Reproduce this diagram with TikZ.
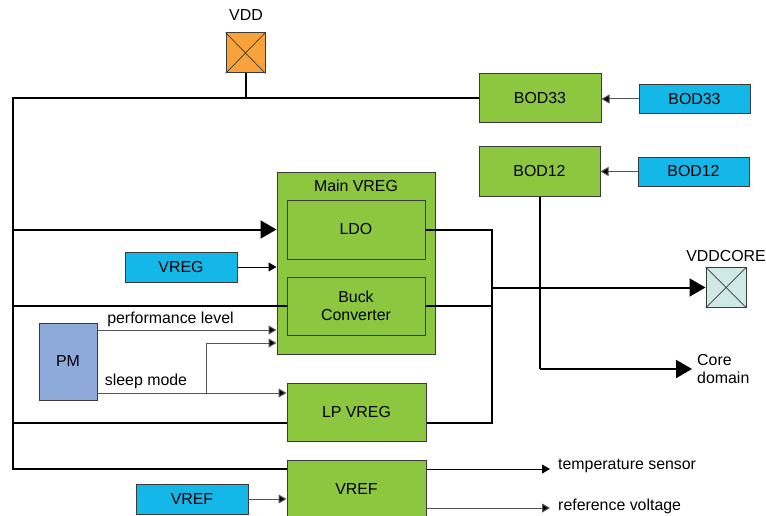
\documentclass[tikz,border=0pt]{standalone}
\usepackage{fontspec}
\setmainfont{Liberation Sans}
\usetikzlibrary{arrows.meta}
\definecolor{vgreen}{HTML}{8DC63F}
\definecolor{vblue}{HTML}{13B7E8}
\definecolor{vorange}{HTML}{F7A23A}
\definecolor{vteal}{HTML}{CFE9E6}
\definecolor{vpm}{HTML}{8EAADB}
\definecolor{vborder}{HTML}{3A3A3A}
\definecolor{vgrey}{HTML}{555555}
\tikzset{
  txt/.style={font=\fontsize{15.9}{18.5}\selectfont, inner sep=0pt},
  greenbox/.style={txt, draw=vborder, line width=1pt, fill=vgreen},
  bluebox/.style={txt, draw=vborder, line width=0.8pt, fill=vblue},
  pmbox/.style={txt, draw=vborder, line width=0.8pt, fill=vpm},
  pad/.style={draw=vborder, line width=1pt, minimum width=39pt, minimum height=40pt, inner sep=0pt},
  power/.style={line width=2pt, draw=black},
  bigarrow/.style={power, -{Triangle[length=16pt,width=18pt]}},
  sig/.style={line width=1pt, draw=black},
  sigarrow/.style={sig, -{Triangle[length=8pt,width=9pt]}},
  greyarrow/.style={line width=1pt, draw=vgrey, -{Triangle[length=8pt,width=9pt,fill=black]}},
}
\begin{document}
\begin{tikzpicture}[x=1pt,y=-1pt]
\useasboundingbox (0,0) rectangle (766,516);
\fill[white] (0,0) rectangle (766,516);

% pads
\node[pad, fill=vorange] (vdd) at (245.5,53) {};
\draw[vborder, line width=0.7pt] (vdd.north west) -- (vdd.south east) (vdd.north east) -- (vdd.south west);
\node[txt] (vddlbl) at (246,15) {VDD};

\node[pad, fill=vteal, minimum width=40pt] (vddcore) at (726,287.5) {};
\draw[vborder, line width=0.7pt] (vddcore.north west) -- (vddcore.south east) (vddcore.north east) -- (vddcore.south west);
\node[txt] (vddcorelbl) at (726,256) {VDDCORE};

% boxes
\node[greenbox, minimum width=122pt, minimum height=49pt] (bod33g) at (540,98.5) {BOD33};
\node[bluebox, minimum width=111pt, minimum height=29pt] (bod33b) at (694.5,99) {BOD33};
\node[greenbox, minimum width=121pt, minimum height=49pt] (bod12g) at (539.5,171.5) {BOD12};
\node[bluebox, minimum width=111pt, minimum height=29pt] (bod12b) at (693.5,171.5) {BOD12};

\node[greenbox, minimum width=158pt, minimum height=181pt] (mainvreg) at (356,263.5) {};
\node[txt] (mainlbl) at (356,186) {Main VREG};
\node[greenbox, minimum width=138pt, minimum height=59pt] (ldo) at (356,229.5) {LDO};
\node[greenbox, minimum width=138pt, minimum height=58pt, align=center] (buck) at (356,306) {Buck\\Converter};

\node[bluebox, minimum width=112pt, minimum height=30pt] (vregb) at (181,267) {VREG};
\node[pmbox, minimum width=58pt, minimum height=77pt] (pm) at (68,361.5) {PM};
\node[greenbox, minimum width=139pt, minimum height=58pt] (lpvreg) at (356.5,412) {LP VREG};
\node[greenbox, minimum width=139pt, minimum height=58pt] (vrefg) at (356.5,489) {VREF};
\node[bluebox, minimum width=112pt, minimum height=30pt] (vrefb) at (192,499) {VREF};

\node[txt, anchor=west, align=left] (core) at (697,369) {Core\\domain};
\node[txt, anchor=west] (temp) at (558,466) {temperature sensor};
\node[txt, anchor=west] (refv) at (558,506) {reference voltage};
\node[txt] (perf) at (170.5,319) {performance level};
\node[txt] (sleep) at (146,381) {sleep mode};

% coordinates
\coordinate (tl) at (13,98.5);
\coordinate (bl) at (13,469);
\coordinate (rb) at (492,229.5);
\coordinate (rbot) at (492,423);
\coordinate (br) at (206,393);
\coordinate (coreend) at (692,369);
\coordinate (tempend) at (550,469);
\coordinate (refend) at (550,508);

% power buses
\draw[power] (vdd.south) -- (vdd.south |- tl);
\draw[power] (bod33g.west) -- (tl) -- (bl) -- (vrefg.west |- bl);
\draw[bigarrow] (13,229.5) -- (mainvreg.west |- 0,229.5);
\draw[power] (13,306) -- (buck.west);
\draw[power] (13,423) -- (lpvreg.west |- rbot);
\draw[power] (ldo.east) -- (rb) -- (rbot) -- (lpvreg.east |- rbot);
\draw[power] (buck.east) -- (buck.east -| rb);
\draw[bigarrow] (492,287.5) -- (vddcore.west);
\draw[power] (bod12g.south) -- (bod12g.south |- coreend);
\draw[bigarrow] (bod12g.south |- coreend) -- (coreend);

% signals
\draw[greyarrow] (bod33b.west) -- (bod33g.east |- bod33b.west);
\draw[greyarrow] (bod12b.west) -- (bod12g.east |- bod12b.west);
\draw[sigarrow] (vregb.east) -- (mainvreg.west |- vregb.east);
\draw[greyarrow] (pm.east |- 0,330) -- (mainvreg.west |- 0,330);
\draw[greyarrow] (pm.east |- br) -- (lpvreg.west |- br);
\draw[greyarrow] (br) -- (206,343) -- (mainvreg.west |- 0,343);
\draw[greyarrow] (vrefb.east) -- (vrefg.west |- vrefb.east);
\draw[sigarrow] (vrefg.east |- tempend) -- (tempend);
\draw[greyarrow] (vrefg.east |- refend) -- (refend);
\end{tikzpicture}
\end{document}
